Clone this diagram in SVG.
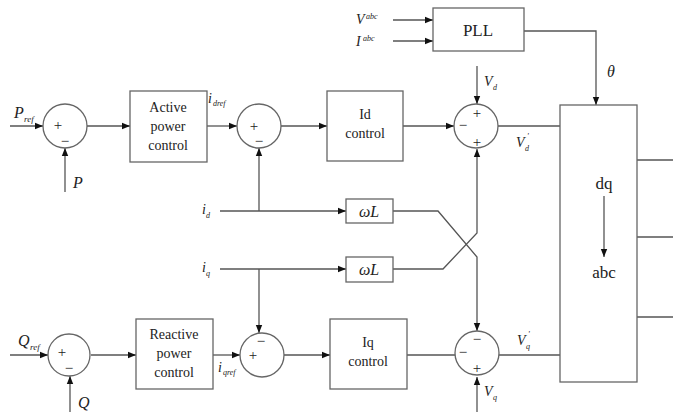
<svg xmlns="http://www.w3.org/2000/svg" width="673" height="412" viewBox="0 0 673 412">
<style>
.ln{stroke:#555;stroke-width:1.3;fill:none}
.bx{stroke:#666;stroke-width:1.3;fill:#fff}
</style>
<defs>
<marker id="a" viewBox="0 0 10 10" refX="10" refY="5" markerWidth="8" markerHeight="8" markerUnits="userSpaceOnUse" orient="auto"><path d="M0,1 L10,5 L0,9 Z" fill="#111"/></marker>
</defs>
<rect width="673" height="412" fill="#fff"/>

<g id="connectors">
<line class="ln" x1="10" y1="126" x2="43" y2="126" marker-end="url(#a)"/>
<line class="ln" x1="65" y1="192" x2="65" y2="148" marker-end="url(#a)"/>
<line class="ln" x1="87" y1="126" x2="130" y2="126" marker-end="url(#a)"/>
<line class="ln" x1="207" y1="126" x2="237" y2="126" marker-end="url(#a)"/>
<line class="ln" x1="281" y1="126" x2="327" y2="126" marker-end="url(#a)"/>
<line class="ln" x1="403" y1="126" x2="454" y2="126" marker-end="url(#a)"/>
<line class="ln" x1="477" y1="66" x2="477" y2="104" marker-end="url(#a)"/>
<line class="ln" x1="498" y1="126" x2="560" y2="126"/>
<line class="ln" x1="393" y1="20" x2="433" y2="20" marker-end="url(#a)"/>
<line class="ln" x1="393" y1="41" x2="433" y2="41" marker-end="url(#a)"/>
<polyline class="ln" points="524,31 596,31 596,105" marker-end="url(#a)"/>
<line class="ln" x1="220" y1="211" x2="346" y2="211" marker-end="url(#a)"/>
<line class="ln" x1="220" y1="269" x2="346" y2="269" marker-end="url(#a)"/>
<line class="ln" x1="259" y1="211" x2="259" y2="148" marker-end="url(#a)"/>
<line class="ln" x1="259" y1="269" x2="259" y2="333" marker-end="url(#a)"/>
<polyline class="ln" points="393,211 438,211 477,257 477,331" marker-end="url(#a)"/>
<polyline class="ln" points="393,269 443,269 477,233 477,149" marker-end="url(#a)"/>
<line class="ln" x1="10" y1="355" x2="48" y2="355" marker-end="url(#a)"/>
<line class="ln" x1="70" y1="412" x2="70" y2="376" marker-end="url(#a)"/>
<line class="ln" x1="91" y1="355" x2="136" y2="355" marker-end="url(#a)"/>
<line class="ln" x1="213" y1="355" x2="240" y2="355" marker-end="url(#a)"/>
<line class="ln" x1="284" y1="355" x2="330" y2="355" marker-end="url(#a)"/>
<line class="ln" x1="407" y1="355" x2="455" y2="355"/>
<line class="ln" x1="477" y1="412" x2="477" y2="377" marker-end="url(#a)"/>
<line class="ln" x1="499" y1="355" x2="560" y2="355"/>
<line class="ln" x1="637" y1="160" x2="673" y2="160"/>
<line class="ln" x1="637" y1="237" x2="673" y2="237"/>
<line class="ln" x1="637" y1="317" x2="673" y2="317"/>
</g>

<g font-family="'Liberation Serif', 'DejaVu Serif', serif" fill="#222">
<g id="sum1" font-size="15" text-anchor="middle"><circle class="bx" cx="65" cy="126" r="22"/><text x="58" y="130">+</text><text x="65" y="146">−</text></g>
<g id="active" font-size="14" text-anchor="middle"><rect class="bx" x="130" y="91" width="77" height="71"/><text x="168" y="112">Active</text><text x="168" y="131">power</text><text x="168" y="150">control</text></g>
<g id="sum2" font-size="15" text-anchor="middle"><circle class="bx" cx="259" cy="126" r="22"/><text x="254" y="131">+</text><text x="259" y="146">−</text></g>
<g id="idctl" font-size="14" text-anchor="middle"><rect class="bx" x="327" y="91" width="76" height="70"/><text x="365" y="119">Id</text><text x="365" y="138">control</text></g>
<g id="sum3" font-size="15" text-anchor="middle"><circle class="bx" cx="476" cy="126" r="22"/><text x="477" y="118">+</text><text x="463" y="130">−</text><text x="477" y="147">+</text></g>
<g id="pll" font-size="17" text-anchor="middle"><rect class="bx" x="433" y="8" width="91" height="43"/><text x="478" y="36">PLL</text></g>
<g id="dqabc" font-size="17" text-anchor="middle"><rect class="bx" x="560" y="105" width="77" height="277"/><text x="604" y="189">dq</text><line class="ln" x1="604" y1="196" x2="604" y2="257" marker-end="url(#a)"/><text x="604" y="278">abc</text></g>
<g id="wl1" font-size="16" font-style="italic" text-anchor="middle"><rect class="bx" x="346" y="199" width="47" height="24"/><text x="369" y="217">ωL</text></g>
<g id="wl2" font-size="16" font-style="italic" text-anchor="middle"><rect class="bx" x="346" y="257" width="47" height="25"/><text x="369" y="275">ωL</text></g>
<g id="sum4" font-size="15" text-anchor="middle"><circle class="bx" cx="69" cy="355" r="21"/><text x="62" y="357">+</text><text x="69" y="373">−</text></g>
<g id="reactive" font-size="14" text-anchor="middle"><rect class="bx" x="136" y="319" width="77" height="70"/><text x="174" y="339">Reactive</text><text x="174" y="358">power</text><text x="174" y="377">control</text></g>
<g id="sum5" font-size="15" text-anchor="middle"><circle class="bx" cx="262" cy="355" r="22"/><text x="261" y="346">−</text><text x="253" y="360">+</text></g>
<g id="iqctl" font-size="14" text-anchor="middle"><rect class="bx" x="330" y="319" width="77" height="70"/><text x="368" y="347">Iq</text><text x="368" y="366">control</text></g>
<g id="sum6" font-size="15" text-anchor="middle"><circle class="bx" cx="477" cy="353" r="22"/><text x="477" y="344">−</text><text x="463" y="357">−</text><text x="477" y="373">+</text></g>

<g id="labels" font-style="italic">
<text font-size="16" x="14" y="118">P</text><text font-size="9" x="24" y="122">ref</text>
<text font-size="16" x="73" y="188">P</text>
<text font-size="14" x="208" y="103">i</text><text font-size="8" x="213" y="106">dref</text>
<text font-size="14" x="484" y="86">V</text><text font-size="8" x="493" y="90">d</text>
<text font-size="14" x="516" y="147">V</text><text font-size="8" x="527" y="139">'</text><text font-size="8" x="525" y="151">d</text>
<text font-size="14" x="356" y="24">V</text><text font-size="8" x="366" y="19">abc</text>
<text font-size="14" x="356" y="46">I</text><text font-size="8" x="363" y="41">abc</text>
<text font-size="16" x="607" y="77">θ</text>
<text font-size="14" x="202" y="214">i</text><text font-size="8" x="206" y="218">d</text>
<text font-size="14" x="202" y="272">i</text><text font-size="8" x="206" y="276">q</text>
<text font-size="16" x="18" y="346">Q</text><text font-size="9" x="30" y="350">ref</text>
<text font-size="16" x="78" y="408">Q</text>
<text font-size="14" x="218" y="372">i</text><text font-size="8" x="223" y="375">qref</text>
<text font-size="14" x="517" y="345">V</text><text font-size="8" x="528" y="337">'</text><text font-size="8" x="526" y="349">q</text>
<text font-size="14" x="484" y="396">V</text><text font-size="8" x="493" y="400">q</text>
</g>
</g>
</svg>
